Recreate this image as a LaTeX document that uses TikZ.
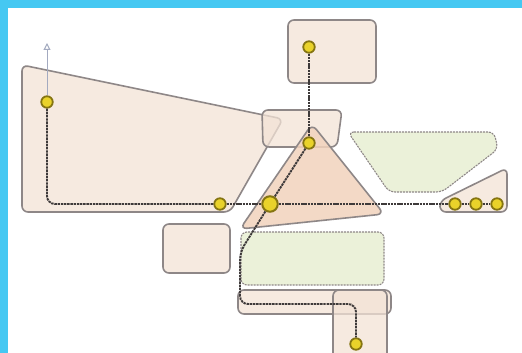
\documentclass[tikz,border=0pt]{standalone}
\usetikzlibrary{arrows.meta}
\definecolor{framebl}{HTML}{45C8F2}
\definecolor{peach}{HTML}{F3E3D6}
\definecolor{tri}{HTML}{F2D3BD}
\definecolor{greenf}{HTML}{EBF1D9}
\definecolor{edge}{HTML}{8E8787}
\definecolor{metro}{HTML}{3E3A3A}
\definecolor{stfill}{HTML}{E9D22A}
\definecolor{string}{HTML}{857512}
\definecolor{arrowc}{HTML}{A3AAC0}
\tikzset{
  area/.style={fill=peach, fill opacity=0.75, draw=edge, draw opacity=1, line width=1.6pt, rounded corners=6pt},
  triarea/.style={fill=tri, fill opacity=0.85, draw=edge, draw opacity=1, line width=1.6pt, rounded corners=7pt},
  greenarea/.style={fill=greenf, draw=edge, line width=1.1pt, dash pattern=on 2pt off 1pt, rounded corners=6pt},
  route/.style={draw=metro, line width=1.9pt, dash pattern=on 2.4pt off 0.8pt, rounded corners=8pt},
  station/.style={circle, fill=stfill, draw=string, line width=1.8pt, minimum size=11.5pt, inner sep=0pt},
  bigstation/.style={circle, fill=stfill, draw=string, line width=2pt, minimum size=15.5pt, inner sep=0pt},
}
\begin{document}
\begin{tikzpicture}[x=1pt,y=-1pt]
\useasboundingbox (0,0) rectangle (522,353);
\fill[framebl] (0,0) rectangle (522,353);
\fill[white] (8,8) rectangle (522,353);

% areas
\draw[area] (22,65) -- (283,119) -- (230,212) -- (22,212) -- cycle;
\draw[area] (262,110) -- (342,110) -- (337,147) -- (263,147) -- cycle;
\draw[area] (288,20) rectangle (376,83);
\draw[greenarea] (348,132) -- (494,132) -- (498,149) -- (442,192) -- (389,192) -- cycle;
\draw[area] (440,212) -- (440,201) -- (507,168) -- (507,212) -- cycle;
\draw[area] (163,224) rectangle (230,273);
\draw[greenarea] (241,232) rectangle (384,285);
\draw[area] (238,290) rectangle (391,314);
\draw[area] (333,290) rectangle (387,362);
\draw[triarea] (312,124) -- (384,214) -- (240,229) -- cycle;

% stations
\coordinate (tip) at (47,43);
\node[station] (s1) at (47,102) {};
\coordinate (c1) at (47,204);
\node[station] (s2) at (220,204) {};
\node[bigstation] (s3) at (270,204) {};
\node[station] (s4) at (455,204) {};
\node[station] (s5) at (476,204) {};
\node[station] (s6) at (497,204) {};
\node[station] (t1) at (309,47) {};
\node[station] (t2) at (309,143) {};
\coordinate (c2) at (240,252);
\coordinate (c3) at (240,304);
\coordinate (c4) at (356,304);
\node[station] (t3) at (356,344) {};

% routes
\draw[arrowc, line width=1pt, -{Triangle[open, length=7pt, width=7pt]}] (s1) -- (tip);
\draw[route] (s1) -- (c1) -- (s2);
\draw[route] (s2) -- (s3);
\draw[route] (s3) -- (s4);
\draw[route] (s4) -- (s5);
\draw[route] (s5) -- (s6);
\draw[route] (t1) -- (t2);
\draw[route] (t2) -- (s3);
\draw[route] (s3) -- (c2) -- (c3) -- (c4) -- (t3);
\end{tikzpicture}
\end{document}
